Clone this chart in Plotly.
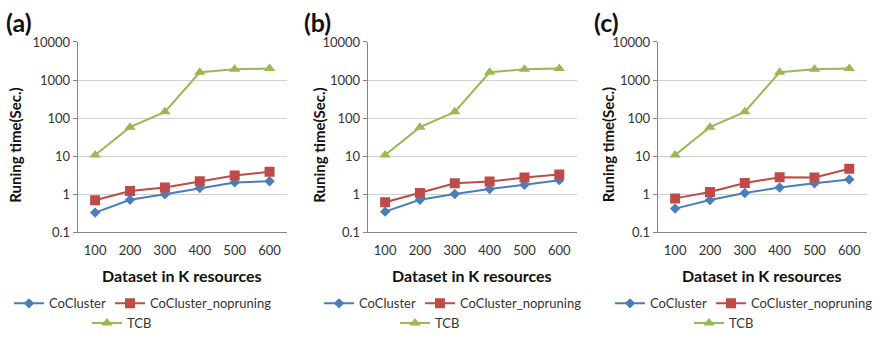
import plotly.graph_objects as go

W, H = 880, 338

categories = ["100", "200", "300", "400", "500", "600"]
series_names = ["CoCluster", "CoCluster_nopruning", "TCB"]
panel_labels = ["(a)", "(b)", "(c)"]

cocluster_a = [0.33, 0.72, 1.0, 1.46, 2.05, 2.2]
noprune_a = [0.70, 1.22, 1.5, 2.2, 3.1, 3.9]
tcb_a = [10.8, 58, 146, 1600, 1920, 2000]

cocluster_b = [0.35, 0.72, 1.02, 1.38, 1.78, 2.35]
noprune_b = [0.62, 1.08, 1.95, 2.15, 2.75, 3.3]
tcb_b = [10.8, 58, 146, 1600, 1920, 2000]

cocluster_c = [0.42, 0.71, 1.08, 1.5, 1.95, 2.45]
noprune_c = [0.78, 1.15, 1.98, 2.8, 2.75, 4.7]
tcb_c = [10.8, 58, 146, 1600, 1920, 2000]

ytick_vals = [0.1, 1, 10, 100, 1000, 10000]
ytick_text = ["0.1", "1", "10", "100", "1000", "10000"]

data = [
    (cocluster_a, noprune_a, tcb_a),
    (cocluster_b, noprune_b, tcb_b),
    (cocluster_c, noprune_c, tcb_c),
]

colors = ["#4A7EBB", "#BE4B48", "#98B954"]
symbols = ["diamond", "square", "triangle-up"]
msizes = [8, 10, 10]

FONT = "Lato"
TXT = "#333333"

def px(x):
    return x / W

def py(y):
    return 1 - y / H

panel_x = [(77.7, 287.0), (367.7, 576.7), (657.7, 866.7)]
plot_top, plot_bot = 36.0, 237.7

fig = go.Figure()
annotations = []
legends = {}

leg_row1 = [(9, 110), (319, 420), (610, 711)]
leg_row2 = [87, 395, 689]

for i, (vals, (x0, x1)) in enumerate(zip(data, panel_x)):
    sfx = "" if i == 0 else str(i + 1)
    for j, v in enumerate(vals):
        lname = "legend" if (i * 3 + j) == 0 else "legend%d" % (i * 3 + j + 1)
        fig.add_trace(go.Scatter(
            x=categories, y=v, name=series_names[j], mode="lines+markers",
            line=dict(color=colors[j], width=2),
            marker=dict(symbol=symbols[j], size=msizes[j], color=colors[j]),
            xaxis="x" + sfx, yaxis="y" + sfx, legend=lname, showlegend=True,
        ))
        if j < 2:
            lx = leg_row1[i][j]
            ly = 313
        else:
            lx = leg_row2[i]
            ly = 334
        legends[lname] = dict(
            x=px(lx), y=py(ly), xanchor="left", yanchor="middle",
            orientation="h", bgcolor="rgba(0,0,0,0)", borderwidth=0,
            font=dict(family=FONT, size=13, color=TXT),
            itemsizing="trace", tracegroupgap=0,
        )
    fig.layout["xaxis" + sfx] = dict(
        domain=[px(x0), px(x1)], anchor="y" + sfx, type="category",
        range=[-0.5, 5.5], showgrid=False, showline=True, linecolor="#868686",
        linewidth=1, ticks="", ticklabelstandoff=6,
        tickfont=dict(family=FONT, size=13, color=TXT),
        zeroline=False, fixedrange=True,
    )
    fig.layout["yaxis" + sfx] = dict(
        domain=[py(plot_bot), py(plot_top)], anchor="x" + sfx, type="log",
        range=[-1, 4], tickvals=ytick_vals, ticktext=ytick_text,
        showgrid=True, gridcolor="#D0D0D0", gridwidth=1,
        showline=True, linecolor="#868686", linewidth=1,
        ticks="outside", ticklen=4, tickcolor="#868686",
        tickfont=dict(family=FONT, size=13, color=TXT), zeroline=False,
        fixedrange=True,
    )
    label_x = [4, 302, 592][i]
    annotations.append(dict(
        text="<b>%s</b>" % panel_labels[i], x=px(label_x), y=py(15),
        xref="paper", yref="paper", xanchor="left", yanchor="middle",
        showarrow=False, font=dict(family=FONT, size=25, color="#111111"),
    ))
    ytitle_x = [15, 319, 607.5][i]
    annotations.append(dict(
        text="<b>Runing time(Sec.)</b>", x=px(ytitle_x), y=py(145),
        xref="paper", yref="paper", xanchor="center", yanchor="middle",
        textangle=-90, showarrow=False,
        font=dict(family=FONT, size=15, color="#111111"),
    ))
    annotations.append(dict(
        text="<b>Dataset in K resources</b>", x=px((x0 + x1) / 2), y=py(283),
        xref="paper", yref="paper", xanchor="center", yanchor="middle",
        showarrow=False, font=dict(family=FONT, size=16, color="#111111"),
    ))

fig.update_layout(
    width=W, height=H, margin=dict(l=0, r=0, t=0, b=0),
    paper_bgcolor="white", plot_bgcolor="white",
    annotations=annotations, **legends,
)

fig.write_html("out.html", config={"displayModeBar": False})
